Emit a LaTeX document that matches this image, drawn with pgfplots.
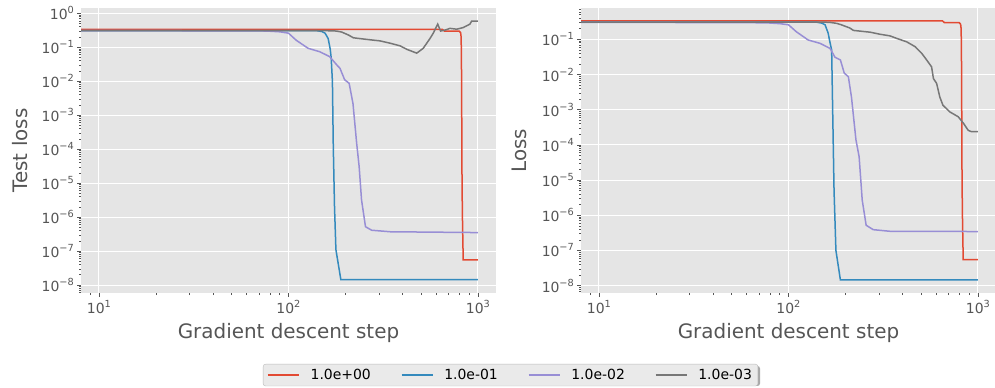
\documentclass[border=0pt]{standalone}
\usepackage{fontspec}
\setmainfont{DejaVu Sans}
\usepackage{pgfplots}
\pgfplotsset{compat=1.18}
\definecolor{bg}{HTML}{E5E5E5}
\definecolor{tickgray}{HTML}{555555}
\definecolor{ggred}{HTML}{E24A33}
\definecolor{ggblue}{HTML}{348ABD}
\definecolor{ggpurple}{HTML}{988ED5}
\definecolor{gggray}{HTML}{777777}
\definecolor{legbg}{HTML}{EAEAEA}
\definecolor{legdraw}{HTML}{BBBBBB}
\definecolor{shadowgray}{HTML}{A8A8A8}
\newcommand{\tl}[1]{10\raisebox{6bp}{\fontsize{9.8}{10}\selectfont #1}}
\pgfplotsset{every axis/.append style={
  scale only axis, width=415bp, height=285bp,
  xmin=8.04, xmax=1245,
  axis background/.style={fill=bg},
  axis line style={draw=none},
  grid=major, major grid style={white, line width=1bp},
  tick align=outside, tick pos=left,
  major tick length=3.6bp, minor tick length=2bp,
  every tick/.style={color=tickgray, line width=0.6bp},
  xtick={10,100,1000}, xticklabels={\tl{1},\tl{2},\tl{3}},
  minor xtick={9,20,30,40,50,60,70,80,90,200,300,400,500,600,700,800,900},
  minor ytick={2e-9,3e-9,4e-9,5e-9,6e-9,7e-9,8e-9,9e-9,
    2e-8,3e-8,4e-8,5e-8,6e-8,7e-8,8e-8,9e-8,
    2e-7,3e-7,4e-7,5e-7,6e-7,7e-7,8e-7,9e-7,
    2e-6,3e-6,4e-6,5e-6,6e-6,7e-6,8e-6,9e-6,
    2e-5,3e-5,4e-5,5e-5,6e-5,7e-5,8e-5,9e-5,
    2e-4,3e-4,4e-4,5e-4,6e-4,7e-4,8e-4,9e-4,
    2e-3,3e-3,4e-3,5e-3,6e-3,7e-3,8e-3,9e-3,
    2e-2,3e-2,4e-2,5e-2,6e-2,7e-2,8e-2,9e-2,
    2e-1,3e-1,4e-1,5e-1,6e-1,7e-1,8e-1,9e-1},
  tick label style={font=\fontsize{14}{16}\selectfont, text=tickgray},
  label style={font=\fontsize{20}{24}\selectfont, text=tickgray},
  xlabel={Gradient descent step},
  xlabel style={at={(axis description cs:0.5,-0.158)},anchor=base},
  ylabel style={at={(axis description cs:-0.148,0.5)},anchor=center},
  every axis plot/.append style={line width=1.5bp},
}}
\begin{document}
\begin{tikzpicture}
\useasboundingbox (0,0) rectangle (995bp,388bp);
\fill[shadowgray, rounded corners=2.5bp] (265bp,2bp) rectangle (760bp,22bp);
\begin{loglogaxis}[at={(81bp,95bp)}, anchor=south west,
  ymin=5.82e-9, ymax=1.43,
  ytick={1e-8,1e-7,1e-6,1e-5,1e-4,1e-3,1e-2,1e-1,1},
  yticklabels={\tl{−8},\tl{−7},\tl{−6},\tl{−5},\tl{−4},\tl{−3},\tl{−2},\tl{−1},\tl{0}},
  ylabel={Test loss},
  legend columns=4,
  legend style={at={(1.035,-0.288)}, anchor=center, font=\fontsize{14}{16}\selectfont,
    fill=legbg, draw=legdraw, rounded corners=2.5bp,
    /tikz/every odd column/.append style={column sep=9bp},
    /tikz/every even column/.append style={column sep=28bp}, inner xsep=4bp, inner ysep=3bp},
  legend image code/.code={\draw[#1,line width=1.5bp] (0bp,0bp) -- (31bp,0bp);},
]
\addplot[ggred] coordinates {(1,0.335)(650,0.335)(665,0.30)(795,0.30)(810,0.27)(815,0.2)(818,0.05)(821,1e-3)(824,1e-5)(828,1e-6)(833,1.5e-7)(836,5.5e-8)(1000,5.5e-8)};
\addlegendentry{1.0e+00}
\addplot[ggblue] coordinates {(1,0.31)(140,0.31)(150,0.29)(156,0.26)(162,0.18)(166,0.09)(168,0.05)(170.6,9.8e-3)(172.4,1.2e-4)(175,2e-6)(178,1.1e-7)(189,1.44e-8)(1000,1.44e-8)};
\addlegendentry{1.0e-01}
\addplot[ggpurple] coordinates {(1,0.31)(60,0.305)(77,0.30)(90,0.285)(100,0.26)(110,0.16)(127,0.093)(146,0.074)(165,0.053)(180,0.030)(187,0.024)(198,0.011)(209,8.7e-3)(219,2.2e-3)(229,1.5e-4)(236,3.1e-5)(243,3.2e-6)(255,5.2e-7)(275,4.1e-7)(344,3.7e-7)(1000,3.5e-7)};
\addlegendentry{1.0e-02}
\addplot[gggray] coordinates {(1,0.31)(150,0.31)(165,0.305)(179,0.30)(191,0.28)(207,0.23)(220,0.19)(238,0.18)(269,0.166)(304,0.154)(343,0.132)(388,0.11)(421,0.087)(475,0.067)(514,0.093)(558,0.18)(581,0.26)(613,0.48)(635,0.30)(670,0.32)(712,0.36)(772,0.34)(836,0.38)(907,0.48)(926,0.59)(1000,0.59)};
\addlegendentry{1.0e-03}
\end{loglogaxis}
\begin{loglogaxis}[at={(581bp,95bp)}, anchor=south west,
  ymin=6.17e-9, ymax=0.78,
  ytick={1e-8,1e-7,1e-6,1e-5,1e-4,1e-3,1e-2,1e-1},
  yticklabels={\tl{−8},\tl{−7},\tl{−6},\tl{−5},\tl{−4},\tl{−3},\tl{−2},\tl{−1}},
  ylabel={Loss},
]
\addplot[ggred] coordinates {(1,0.335)(650,0.335)(665,0.30)(795,0.30)(810,0.27)(815,0.2)(818,0.05)(821,1e-3)(824,1e-5)(828,1e-6)(833,1.5e-7)(836,5.5e-8)(1000,5.5e-8)};
\addplot[ggblue] coordinates {(1,0.31)(140,0.31)(150,0.29)(156,0.26)(162,0.15)(165,0.09)(169,0.05)(171,1.2e-3)(174,5e-6)(178,1e-7)(188,1.45e-8)(1000,1.45e-8)};
\addplot[ggpurple] coordinates {(1,0.31)(55,0.30)(77,0.295)(90,0.28)(100,0.26)(110,0.165)(127,0.096)(147,0.077)(166,0.055)(176,0.031)(188,0.026)(197,0.011)(207,8.7e-3)(215,2.3e-3)(227,1.4e-4)(236,4.6e-5)(245,2.7e-6)(257,5.2e-7)(280,3.9e-7)(344,3.5e-7)(1000,3.45e-7)};
\addplot[gggray] coordinates {(1,0.31)(150,0.31)(165,0.305)(180,0.285)(190,0.26)(211,0.21)(220,0.18)(243,0.17)(270,0.16)(304,0.14)(343,0.126)(372,0.107)(421,0.085)(466,0.062)(505,0.040)(536,0.026)(569,0.0166)(582,7.7e-3)(605,5.6e-3)(629,2.3e-3)(653,1.35e-3)(710,8.7e-4)(787,6.3e-4)(839,4.1e-4)(888,2.6e-4)(920,2.4e-4)(1000,2.4e-4)};
\end{loglogaxis}
\end{tikzpicture}
\end{document}
